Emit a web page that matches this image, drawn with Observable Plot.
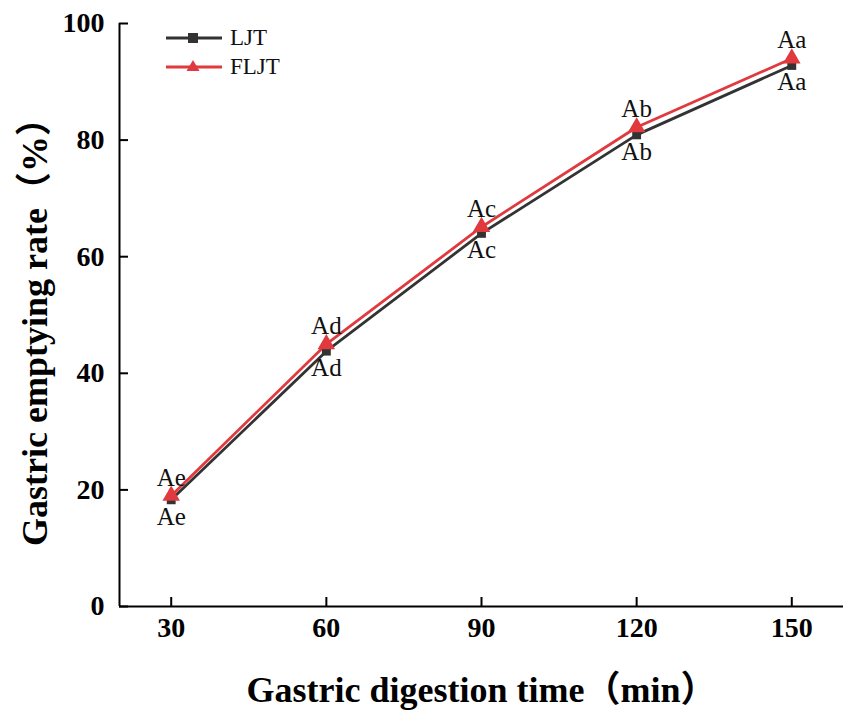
<!DOCTYPE html>
<html><head><meta charset="utf-8">
<script src="https://cdn.jsdelivr.net/npm/d3@7"></script>
<script src="https://cdn.jsdelivr.net/npm/@observablehq/plot@0.6"></script>
<style>
body{margin:0;background:#fff;}
#wrap{position:relative;width:851px;height:719px;}
#legend{position:absolute;left:164px;top:23px;font-family:"Liberation Serif","Times New Roman",serif;font-size:23px;color:#111;}
#legend div{display:flex;align-items:center;height:29px;}
#legend svg{margin-right:6px;}
</style></head>
<body><div id="wrap"><div id="legend"></div></div>
<script>
const times = [30, 60, 90, 120, 150];
const ljt = [18.3, 43.8, 64.0, 80.9, 92.8];
const fljt = [19.0, 45.0, 65.1, 82.2, 94.0];
const ljtLetters = ["Ae", "Ad", "Ac", "Ab", "Aa"];
const fljtLetters = ["Ae", "Ad", "Ac", "Ab", "Aa"];
const seriesNames = ["LJT", "FLJT"];
const colors = ["#333333", "#e0393e"];
const yTicks = [0, 20, 40, 60, 80, 100];

const rows = [];
times.forEach((t, i) => {
  rows.push({series: "LJT", t, v: ljt[i], lab: ljtLetters[i]});
  rows.push({series: "FLJT", t, v: fljt[i], lab: fljtLetters[i]});
});
const L = rows.filter(d => d.series === "LJT");
const F = rows.filter(d => d.series === "FLJT");
const serif = "'Liberation Serif','Times New Roman','Noto Sans CJK SC',serif";

const chart = Plot.plot({
  width: 851, height: 719,
  marginLeft: 119, marginRight: 8, marginTop: 23, marginBottom: 113,
  style: {fontFamily: serif, background: "white", color: "#000"},
  x: {domain: [20, 160], ticks: times, label: null},
  y: {domain: [0, 100], ticks: yTicks, label: null},
  marks: [
    Plot.ruleX([20], {y1: 0, y2: 100, stroke: "#000", strokeWidth: 2}),
    Plot.ruleY([0], {x1: 20, x2: 160, stroke: "#000", strokeWidth: 2}),
    Plot.axisY({ticks: yTicks, tickSize: -9, tickPadding: 24, fontSize: 28, fontWeight: "bold", strokeWidth: 2, stroke: "#000", label: null}),
    Plot.axisX({ticks: times, tickSize: -9, tickPadding: 20, fontSize: 28, fontWeight: "bold", strokeWidth: 2, stroke: "#000", label: null}),
    Plot.line(L, {x: "t", y: "v", stroke: colors[0], strokeWidth: 2.8}),
    Plot.line(F, {x: "t", y: "v", stroke: colors[1], strokeWidth: 2.8}),
    Plot.dot(L, {x: "t", y: "v", symbol: "square", r: 5, fill: colors[0], stroke: "none"}),
    Plot.dot(F, {x: "t", y: "v", symbol: "triangle", r: 6.5, fill: colors[1], stroke: "none"}),
    Plot.text(F, {x: "t", y: "v", text: "lab", dy: -18, fontSize: 25, fill: "#111"}),
    Plot.text(L, {x: "t", y: "v", text: "lab", dy: 17, fontSize: 25, fill: "#111"}),
    Plot.text(["Gastric digestion time（min）"], {frameAnchor: "bottom", lineAnchor: "middle", dy: 84, fontSize: 36, fontWeight: "bold", fill: "#000"}),
    Plot.text(["Gastric emptying rate（%）"], {frameAnchor: "left", textAnchor: "middle", lineAnchor: "middle", dx: -84, dy: 8, rotate: -90, fontSize: 36, fontWeight: "bold", fill: "#000"})
  ]
});
document.getElementById("wrap").appendChild(chart);

const leg = document.getElementById("legend");
seriesNames.forEach((name, i) => {
  const row = document.createElement("div");
  const shape = i === 0
    ? `<rect x="24" y="7" width="10" height="10" fill="${colors[i]}"/>`
    : `<polygon points="29,5 35.5,16 22.5,16" fill="${colors[i]}"/>`;
  row.innerHTML = `<svg width="60" height="24"><line x1="2" x2="58" y1="12" y2="12" stroke="${colors[i]}" stroke-width="2.8"/>${shape}</svg><span>${name}</span>`;
  leg.appendChild(row);
});
</script></body></html>
